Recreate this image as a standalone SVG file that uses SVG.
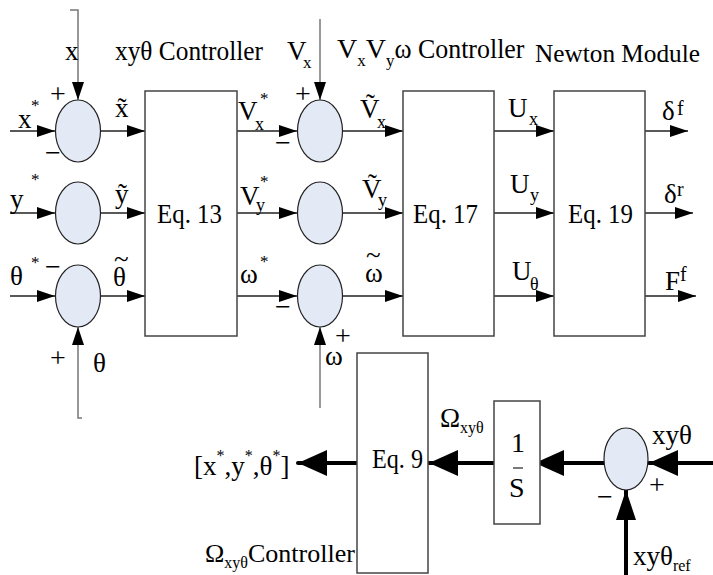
<svg xmlns="http://www.w3.org/2000/svg" width="713" height="575" viewBox="0 0 713 575" font-family="Liberation Serif">
<defs>
<marker id="ah" markerUnits="userSpaceOnUse" markerWidth="18" markerHeight="12" refX="18" refY="6" orient="auto"><path d="M0,0 L18,6 L0,12 z" fill="#000"/></marker>
<marker id="ahb" markerUnits="userSpaceOnUse" markerWidth="29" markerHeight="26" refX="29" refY="13" orient="auto"><path d="M0,0 L29,13 L0,26 z" fill="#000"/></marker>
<marker id="ahu" markerUnits="userSpaceOnUse" markerWidth="30" markerHeight="20" refX="30" refY="10" orient="auto"><path d="M0,0 L30,10 L0,20 z" fill="#000"/></marker>
</defs>
<style>
.sum{fill:#e4eaf5;stroke:#222;stroke-width:1.2}
.box{fill:#fff;stroke:#444;stroke-width:1.5}
.w{fill:none;stroke:#222;stroke-width:1.3}
.g{fill:none;stroke:#777;stroke-width:1.5}
.t{fill:none;stroke:#000;stroke-width:4;stroke-linecap:round}
</style>
<g id="connectors">
<path class="w" d="M10,131 H55" marker-end="url(#ah)"/>
<path class="w" d="M10,213 H55" marker-end="url(#ah)"/>
<path class="w" d="M10,296 H55" marker-end="url(#ah)"/>
<path class="w" d="M100.5,131 H145" marker-end="url(#ah)"/>
<path class="w" d="M100.5,213 H145" marker-end="url(#ah)"/>
<path class="w" d="M100.5,296 H145" marker-end="url(#ah)"/>
<path class="w" d="M237,131 H297" marker-end="url(#ah)"/>
<path class="w" d="M237,213 H297" marker-end="url(#ah)"/>
<path class="w" d="M237,296 H297" marker-end="url(#ah)"/>
<path class="w" d="M343,131 H403" marker-end="url(#ah)"/>
<path class="w" d="M343,213 H403" marker-end="url(#ah)"/>
<path class="w" d="M343,296 H403" marker-end="url(#ah)"/>
<path class="w" d="M494,131 H554" marker-end="url(#ah)"/>
<path class="w" d="M494,213 H554" marker-end="url(#ah)"/>
<path class="w" d="M494,296 H554" marker-end="url(#ah)"/>
<path class="w" d="M645,131 H688" marker-end="url(#ah)"/>
<path class="w" d="M645,213 H693" marker-end="url(#ah)"/>
<path class="w" d="M645,296 H696" marker-end="url(#ah)"/>
<path class="g" d="M70,10 H78 V100" marker-end="url(#ah)"/>
<path class="g" d="M82,418 H78 V327" marker-end="url(#ah)"/>
<path class="g" d="M320,19 V100" marker-end="url(#ah)"/>
<path class="g" d="M320,408 V327" marker-end="url(#ah)"/>
<path class="t" d="M713,463 H649" marker-end="url(#ahb)"/>
<path class="t" d="M604,463 H535" marker-end="url(#ahb)"/>
<path class="t" d="M494,463 H429" marker-end="url(#ahb)"/>
<path class="t" d="M357,463 H298" marker-end="url(#ahb)"/>
<path class="t" d="M626,575 V490" marker-end="url(#ahu)"/>
</g>
<g id="sum-x"><ellipse class="sum" cx="78" cy="131" rx="22.5" ry="31"/></g>
<g id="sum-y"><ellipse class="sum" cx="78" cy="213" rx="22.5" ry="31"/></g>
<g id="sum-theta"><ellipse class="sum" cx="78" cy="296" rx="22.5" ry="31"/></g>
<g id="sum-vx"><ellipse class="sum" cx="320" cy="131" rx="22.5" ry="31"/></g>
<g id="sum-vy"><ellipse class="sum" cx="320" cy="213" rx="22.5" ry="31"/></g>
<g id="sum-omega"><ellipse class="sum" cx="320" cy="296" rx="22.5" ry="31"/></g>
<g id="sum-ref"><ellipse class="sum" cx="626" cy="459" rx="22" ry="31"/></g>
<g fill="#000">
<g id="eq13"><rect class="box" x="145" y="91" width="92" height="245"/><text font-size="28" x="157" y="223" textLength="65" lengthAdjust="spacingAndGlyphs">Eq. 13</text></g>
<g id="eq17"><rect class="box" x="403" y="91" width="91" height="245"/><text font-size="28" x="413" y="223" textLength="65" lengthAdjust="spacingAndGlyphs">Eq. 17</text></g>
<g id="eq19"><rect class="box" x="554" y="91" width="91" height="245"/><text font-size="28" x="568" y="223" textLength="65" lengthAdjust="spacingAndGlyphs">Eq. 19</text></g>
<g id="eq9"><rect class="box" x="357" y="353" width="71" height="220"/><text font-size="28" x="372" y="468" textLength="51" lengthAdjust="spacingAndGlyphs">Eq. 9</text></g>
<g id="integrator"><rect class="box" x="494" y="401" width="46" height="123"/><text font-size="28" x="511" y="452">1</text><path d="M513,468 H523" stroke="#222" stroke-width="1.2"/><text font-size="28" x="509" y="497">S</text></g>
<g id="labels" font-size="27">
<text font-size="28" x="115" y="60" textLength="148" lengthAdjust="spacingAndGlyphs">xyθ Controller</text>
<text font-size="28" x="337" y="58">V<tspan font-size="17" dy="8">x</tspan><tspan dy="-8">V</tspan><tspan font-size="17" dy="8">y</tspan><tspan dy="-8" textLength="130" lengthAdjust="spacingAndGlyphs">ω Controller</tspan></text>
<text font-size="26" x="535" y="62" textLength="165" lengthAdjust="spacingAndGlyphs">Newton Module</text>
<text x="65" y="60">x</text>
<text x="287" y="60">V</text><text font-size="17" x="303" y="68">x</text>
<g font-size="28">
<text x="50" y="103">+</text>
<text x="45" y="162">−</text>
<text x="295" y="103">+</text>
<text x="275" y="152">−</text>
<text x="45" y="276">−</text>
<text x="275" y="316">−</text>
<text x="50" y="367">+</text>
<text x="335" y="345">+</text>
<text x="597" y="506">−</text>
<text x="649" y="494">+</text>
</g>
<text x="18" y="128">x</text><text font-size="17" x="31" y="111">*</text>
<text x="10" y="208">y</text><text font-size="17" x="31" y="185">*</text>
<text x="10" y="285">θ</text><text font-size="17" x="31" y="268">*</text>
<text x="115" y="117">x̃</text>
<text x="115" y="203">ỹ</text>
<text x="113" y="286">θ</text><text x="114" y="268">~</text>
<text x="238" y="120">V</text><text font-size="17" x="260" y="104">*</text><text font-size="18" x="255" y="130">x</text>
<text x="240" y="205">V</text><text font-size="17" x="260" y="187">*</text><text font-size="18" x="256" y="211">y</text>
<text x="240" y="283">ω</text><text font-size="17" x="260" y="267">*</text>
<text x="93" y="372">θ</text>
<text x="325" y="365">ω</text>
<text x="360" y="118">Ṽ</text><text font-size="18" x="377" y="128">x</text>
<text x="362" y="198">Ṽ</text><text font-size="18" x="378" y="206">y</text>
<text x="365" y="282">ω</text><text x="366" y="264">~</text>
<text x="508" y="117">U</text><text font-size="18" x="529" y="125">x</text>
<text x="510" y="193">U</text><text font-size="18" x="530" y="201">y</text>
<text x="512" y="280">U</text><text font-size="18" x="530" y="290">θ</text>
<text x="662" y="120">δ</text><text font-size="20" x="677" y="115">f</text>
<text x="664" y="203">δ</text><text font-size="20" x="677" y="196">r</text>
<text x="665" y="290">F</text><text font-size="20" x="680" y="281">f</text>
<text x="440" y="427">Ω<tspan font-size="16" dy="6">xyθ</tspan></text>
<text x="194" y="475">[x<tspan font-size="16" dy="-14">*</tspan><tspan dy="14">,y</tspan><tspan font-size="16" dy="-14">*</tspan><tspan dy="14">,θ</tspan><tspan font-size="16" dy="-14">*</tspan><tspan dy="14">]</tspan></text>
<text font-size="26" x="205" y="562">Ω<tspan font-size="16" dy="6">xyθ</tspan><tspan dy="-6">Controller</tspan></text>
<text x="652" y="444">xyθ</text>
<text x="633" y="565">xyθ<tspan font-size="16" dy="6">ref</tspan></text>
</g>
</g>
</svg>
